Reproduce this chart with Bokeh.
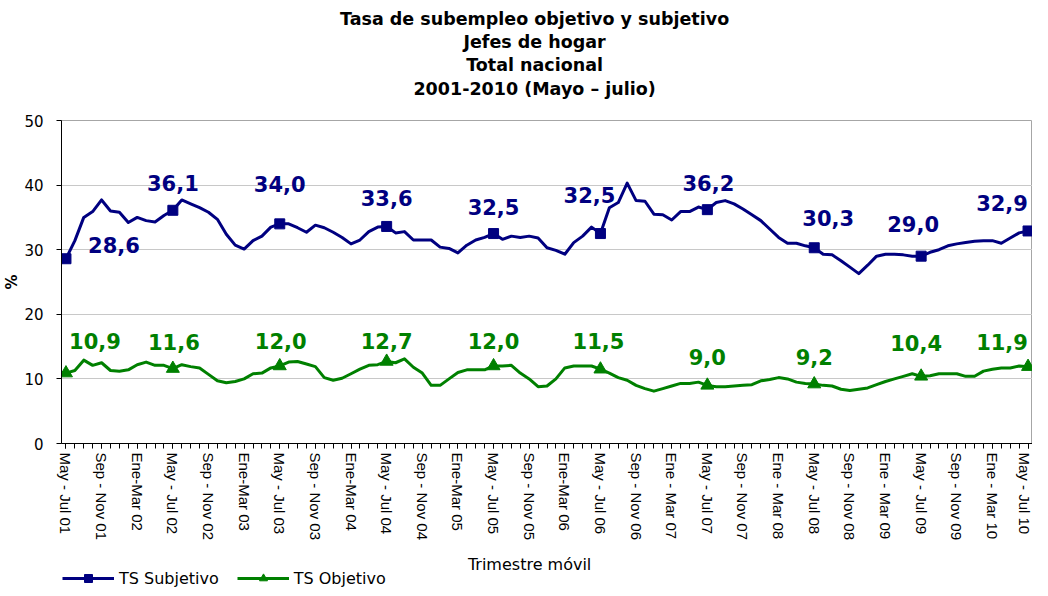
from bokeh.plotting import figure
from bokeh.layouts import column
from bokeh.models import (Range1d, FixedTicker, ColumnDataSource, LabelSet, Label,
                          Legend, LegendItem)
from bokeh.core.properties import value
from bokeh.embed import file_html
from bokeh.resources import INLINE

# ---------------- data ----------------
title_lines = ["Tasa de subempleo objetivo y subjetivo", "Jefes de hogar",
               "Total nacional", "2001-2010 (Mayo \u2013 julio)"]

tick_labels = ["May - Jul 01", "Sep - Nov 01", "Ene-Mar 02", "May - Jul 02", "Sep - Nov 02",
               "Ene-Mar 03", "May - Jul 03", "Sep - Nov 03", "Ene-Mar 04", "May - Jul 04",
               "Sep - Nov 04", "Ene-Mar 05", "May - Jul 05", "Sep - Nov 05", "Ene-Mar 06",
               "May - Jul 06", "Sep - Nov 06", "Ene - Mar 07", "May - Jul 07", "Sep - Nov 07",
               "Ene - Mar 08", "May - Jul 08", "Sep - Nov 08", "Ene - Mar 09", "May - Jul 09",
               "Sep - Nov 09", "Ene - Mar 10", "May - Jul 10"]

ts_subjetivo = [28.6, 31.4, 35.0, 35.9, 37.7, 36.0, 35.8, 34.2, 35.0, 34.5, 34.3, 35.3,
                36.1, 37.7, 37.1, 36.5, 35.8, 34.7, 32.4, 30.7, 30.1, 31.4, 32.1, 33.5,
                34.0, 34.0, 33.4, 32.7, 33.8, 33.4, 32.7, 31.9, 30.9, 31.5, 32.8, 33.5,
                33.6, 32.6, 32.8, 31.5, 31.5, 31.5, 30.4, 30.2, 29.5, 30.7, 31.5, 31.9,
                32.5, 31.6, 32.1, 31.9, 32.1, 31.8, 30.3, 29.9, 29.3, 31.1, 32.1, 33.5,
                32.5, 36.5, 37.3, 40.3, 37.6, 37.5, 35.5, 35.4, 34.6, 35.9, 35.9, 36.6,
                36.2, 37.3, 37.6, 37.1, 36.3, 35.4, 34.5, 33.2, 31.9, 31.0, 31.0, 30.6,
                30.3, 29.3, 29.2, 28.3, 27.3, 26.3, 27.6, 29.0, 29.3, 29.3, 29.2, 29.0,
                29.0, 29.6, 30.0, 30.6, 30.9, 31.1, 31.3, 31.4, 31.4, 31.0, 31.8, 32.6,
                32.9]

ts_objetivo = [10.9, 11.3, 12.9, 12.1, 12.5, 11.3, 11.2, 11.4, 12.2, 12.6, 12.1, 12.1,
               11.6, 12.2, 11.9, 11.7, 10.7, 9.7, 9.4, 9.6, 10.0, 10.8, 10.9, 11.7,
               12.0, 12.6, 12.7, 12.3, 11.9, 10.2, 9.8, 10.1, 10.8, 11.5, 12.1, 12.2,
               12.7, 12.5, 13.1, 11.8, 10.9, 9.0, 9.0, 10.0, 11.0, 11.4, 11.4, 11.4,
               12.0, 12.0, 12.1, 10.9, 10.0, 8.8, 8.9, 10.0, 11.7, 12.0, 12.0, 12.0,
               11.5, 10.9, 10.2, 9.8, 9.0, 8.5, 8.1, 8.5, 8.9, 9.3, 9.3, 9.5,
               9.0, 8.8, 8.8, 8.9, 9.0, 9.1, 9.7, 9.9, 10.2, 10.0, 9.5, 9.3,
               9.2, 9.0, 8.9, 8.4, 8.2, 8.4, 8.6, 9.1, 9.6, 10.0, 10.4, 10.8,
               10.4, 10.5, 10.8, 10.8, 10.8, 10.4, 10.4, 11.2, 11.5, 11.7, 11.7, 12.0,
               11.9]

series_names = ["TS Subjetivo", "TS Objetivo"]
x_title = "Trimestre m\u00f3vil"
y_title = "%"

# ---------------- style ----------------
NAVY = "#000080"
GREEN = "#008000"
SANS = "DejaVu Sans"
ARIAL = "Liberation Sans"

step = 12  # markers / labels on each May-Jul quarter
x = list(range(len(ts_subjetivo)))
mx = x[::step]
sub_m = ts_subjetivo[::step]
obj_m = ts_objetivo[::step]

def fmt(v):
    return f"{v:.1f}".replace(".", ",")

# label offsets in screen pixels (styling)
sub_dx = [48, 0, 0, 0, 0, -11, 1, 14, -8, -26]
sub_dy = [14, 27, 40, 28, 27, 39, 27, 30, 32, 28]
obj_dx = [29, 1, 1, 0, 0, -2, 0, 0, -5, -26]
obj_dy = [32, 27, 25, 20, 25, 28, 28, 27, 33, 25]

W = 1032
LEFT = 55
FW = W - LEFT          # frame width shared by all strips
TITLE_H = 100          # title strip height
TOP_PAD = 20           # gap between title strip and plot frame
FRAME_H = 323
BOTTOM = 101
LEG_H = 44
MAIN_H = TOP_PAD + FRAME_H + BOTTOM


def strip(height):
    f = figure(width=W, height=height, output_backend="svg", toolbar_location=None,
               x_range=Range1d(0, FW), y_range=Range1d(0, height),
               min_border=0, title=None)
    f.axis.visible = False
    f.grid.grid_line_color = None
    f.outline_line_color = None
    f.background_fill_color = "white"
    f.border_fill_color = "white"
    return f

# ---------------- title strip ----------------
tf = strip(TITLE_H)
title_centres = [18, 41, 64, 88]   # px from the top of the strip
for line, c in zip(title_lines, title_centres):
    tf.add_layout(Label(x=476, y=TITLE_H - c, text=line, text_align="center",
                        text_baseline="middle", text_font=SANS, text_font_style="bold",
                        text_font_size="17.5px", text_color="black"))

# ---------------- main plot ----------------
p = figure(width=W, height=MAIN_H, output_backend="svg", toolbar_location=None,
           x_range=Range1d(-0.5, len(x) - 0.5), y_range=Range1d(0, 50),
           min_border_left=LEFT, min_border_right=0, min_border_top=TOP_PAD,
           min_border_bottom=BOTTOM, title=None)
p.background_fill_color = "white"
p.border_fill_color = "white"
p.outline_line_color = "#a6a6a6"

xa = p.below[0]
ya = p.left[0]

xa.ticker = FixedTicker(ticks=list(range(0, len(x), 4)), minor_ticks=x)
xa.major_label_overrides = {i * 4: lab for i, lab in enumerate(tick_labels)}
xa.major_label_orientation = "vertical"
xa.major_label_text_font = ARIAL
xa.major_label_text_font_size = "15px"
xa.major_label_text_color = "black"
xa.major_label_standoff = 4
xa.major_tick_in = 0
xa.major_tick_out = 5
xa.minor_tick_in = 0
xa.minor_tick_out = 5
xa.axis_line_color = "black"
xa.major_tick_line_color = "black"
xa.minor_tick_line_color = "black"

ya.ticker = FixedTicker(ticks=[0, 10, 20, 30, 40, 50])
ya.major_label_text_font = SANS
ya.major_label_text_font_size = "15px"
ya.major_label_text_color = "black"
ya.major_label_standoff = 13
ya.major_tick_in = 0
ya.major_tick_out = 5
ya.minor_tick_line_color = None
ya.axis_line_color = "black"
ya.major_tick_line_color = "black"
ya.axis_label = y_title
ya.axis_label_text_font = SANS
ya.axis_label_text_font_style = "bold"
ya.axis_label_text_font_size = "15px"
ya.axis_label_text_color = "black"
ya.axis_label_standoff = 0

p.xgrid.grid_line_color = None
p.ygrid.grid_line_color = "#c8c8c8"
p.ygrid.grid_line_width = 1

r_sub = p.line(x, ts_subjetivo, line_color=NAVY, line_width=3, line_join="round")
s_sub = p.scatter(mx, sub_m, marker="square", size=10, fill_color=NAVY, line_color=NAVY)
r_obj = p.line(x, ts_objetivo, line_color=GREEN, line_width=3, line_join="round")
s_obj = p.scatter(mx, obj_m, marker="triangle", size=13, fill_color=GREEN, line_color=GREEN)

src_sub = ColumnDataSource(dict(x=mx, y=sub_m, t=[fmt(v) for v in sub_m], dx=sub_dx, dy=sub_dy))
src_obj = ColumnDataSource(dict(x=mx, y=obj_m, t=[fmt(v) for v in obj_m], dx=obj_dx, dy=obj_dy))
for src, col in ((src_sub, NAVY), (src_obj, GREEN)):
    p.add_layout(LabelSet(x="x", y="y", text="t", source=src, x_offset="dx", y_offset="dy",
                          text_align="center", text_baseline="middle",
                          text_font=value(SANS), text_font_style="bold",
                          text_font_size="21px", text_color=col))

# ---------------- strip below: axis title + legend ----------------
lf = strip(LEG_H)
lf.add_layout(Label(x=471, y=LEG_H - 20, text=x_title, text_align="center",
                    text_baseline="middle", text_font=SANS, text_font_size="16px",
                    text_color="black"))

# legend proxies (hidden renderers carrying the series styles)
lr1 = lf.line(x, ts_subjetivo, line_color=NAVY, line_width=3, visible=False)
ls1 = lf.scatter(mx, sub_m, marker="square", fill_color=NAVY, line_color=NAVY, visible=False)
lr2 = lf.line(x, ts_objetivo, line_color=GREEN, line_width=3, visible=False)
ls2 = lf.scatter(mx, obj_m, marker="triangle", fill_color=GREEN, line_color=GREEN, visible=False)
legend = Legend(items=[LegendItem(label=series_names[0], renderers=[lr1, ls1]),
                       LegendItem(label=series_names[1], renderers=[lr2, ls2])],
                location=(1, 0), orientation="horizontal",
                padding=0, margin=0, spacing=18, label_standoff=5,
                glyph_width=52, glyph_height=20, label_height=20,
                label_text_font=SANS, label_text_font_size="16px",
                label_text_color="black", border_line_color=None,
                background_fill_alpha=0, inactive_fill_alpha=0)
lf.add_layout(legend)

layout = column(tf, p, lf, spacing=0)
open("out.html", "w").write(file_html(layout, INLINE))
